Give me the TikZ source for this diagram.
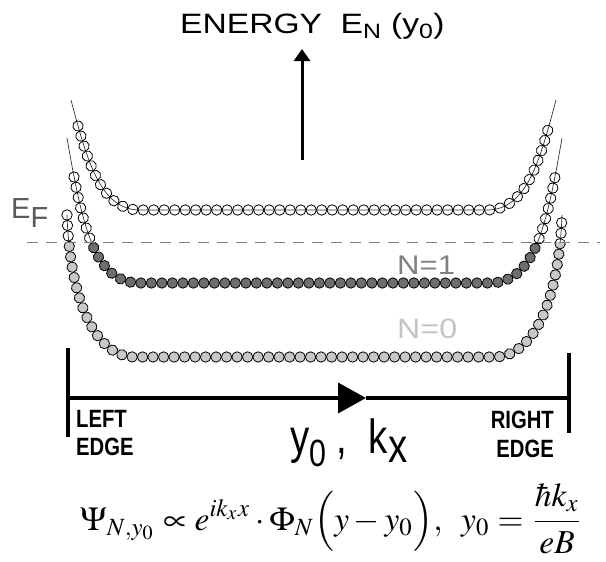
\documentclass[tikz,border=0pt]{standalone}
\usepackage{mathptmx}
\usepackage[no-math]{fontspec}
\usepackage{graphicx}
\usetikzlibrary{arrows.meta,decorations.markings}
\newfontfamily\arialf{Liberation Sans}
\definecolor{dotdark}{HTML}{6E6E6E}
\definecolor{dotlight}{HTML}{C8C8C8}
\definecolor{lvlgray}{HTML}{808080}
\definecolor{lvllight}{HTML}{C4C4C4}
\definecolor{fermigray}{HTML}{5A5A5A}
\newcommand{\wide}[3]{\scalebox{#1}[1]{\fontsize{#2}{#2}\selectfont #3}}
\tikzset{
  lvl/.style={line width=0.7pt, black!80},
  dots/.style={postaction={decorate}, decoration={markings,
    mark=between positions 0 and 1 step 10.5pt with {\draw[line width=0.8pt, fill=#1] (0,0) circle (5.2pt);}}},
  lbl/.style={inner sep=0pt, font=\arialf},
  edgelbl/.style={inner sep=0pt, font=\arialf\bfseries},
  arr/.style={line width=3pt, -{Triangle[length=12pt, width=16pt]}},
  axis/.style={line width=4pt},
}
\begin{document}
\begin{tikzpicture}[x=1pt, y=-1pt]
  \useasboundingbox (0,0) rectangle (606,562);
  \node[lbl, anchor=base west] (title) at (180,34) {\wide{1.2}{28}{ENERGY\ \ E\textsubscript{N} (y\textsubscript{0})}};
  \coordinate (ebot) at (302,160);
  \coordinate (etop) at (302,49);
  \draw[arr] (ebot) -- (etop);
  \draw[lvl] (71,100) .. controls (87,160) and (100,210) .. (140,210) -- (487,210) .. controls (527,210) and (540,160) .. (556,100);
  \draw[lvl] (67,138) .. controls (83,230) and (95,283) .. (140,283) -- (489,283) .. controls (534,283) and (546,230) .. (562,138);
  \draw[lvl] (67,215) .. controls (70,300) and (95,357) .. (135,357) -- (494,357) .. controls (534,357) and (559,300) .. (562,215);
  \foreach \ya/\yb/\colone/\colzero in {0/242/none/none, 242/562/dotdark/dotlight}{
    \begin{scope}
      \clip (0,\ya) rectangle (606,\yb);
      \path[dots=none] (78,126) .. controls (91.5,174) and (106,210) .. (140,210) -- (487,210) .. controls (521,210) and (535.5,174) .. (549,126);
      \path[dots=\colone] (74,177) .. controls (87,245) and (102,283) .. (140,283) -- (489,283) .. controls (527,283) and (542,245) .. (555,177);
      \path[dots=\colzero] (67,215) .. controls (70,300) and (95,357) .. (135,357) -- (494,357) .. controls (534,357) and (559,300) .. (562,215);
    \end{scope}
  }
  \draw[lvlgray, line width=1pt, dash pattern=on 11pt off 8pt] (27,242) -- (600,242);
  \node[lbl, text=fermigray, anchor=base west] (ef) at (11,218) {\wide{1.0}{29}{E\raisebox{-9pt}{F}}};
  \node[lbl, text=lvlgray, anchor=base west] (nlabone) at (397,274) {\wide{1.15}{27}{N=1}};
  \node[lbl, text=lvllight, anchor=base west] (nlabzero) at (397,338) {\wide{1.15}{28}{N=0}};
  \coordinate (ledge) at (68,398);
  \coordinate (mid) at (366,398);
  \coordinate (redge) at (569,398);
  \draw[axis, -{Triangle[length=28pt, width=30pt]}] (ledge) -- (mid);
  \draw[axis] (mid) -- (redge);
  \draw[axis, line width=3.5pt] (68,348) -- (68,437);
  \draw[axis, line width=3.5pt] (569,353) -- (569,433);
  \node[edgelbl, anchor=base west] (lefta) at (76,427) {\wide{0.81}{25}{LEFT}};
  \node[edgelbl, anchor=base west] (leftb) at (76,455) {\wide{0.81}{25}{EDGE}};
  \node[edgelbl, anchor=base east] (righta) at (554,428) {\wide{0.81}{25}{RIGHT}};
  \node[edgelbl, anchor=base east] (rightb) at (554,457) {\wide{0.81}{25}{EDGE}};
  \node[lbl, anchor=base west] (ykx) at (290,453) {\wide{0.8}{48}{y\raisebox{-13pt}{\fontsize{38}{38}\selectfont 0}\ ,\ \ k\raisebox{-9pt}{x}}};
  \node[anchor=base west, inner sep=0pt] (psi) at (80,530) {\resizebox{503pt}{!}{$\displaystyle \Psi_{N,y_0}\propto e^{ik_x x}\cdot\Phi_N\Bigl(y-y_0\Bigr),\;\; y_0=\frac{\hbar k_x\rule[-3pt]{0pt}{0pt}}{\rule{0pt}{8pt}eB}$}};
\end{tikzpicture}
\end{document}
